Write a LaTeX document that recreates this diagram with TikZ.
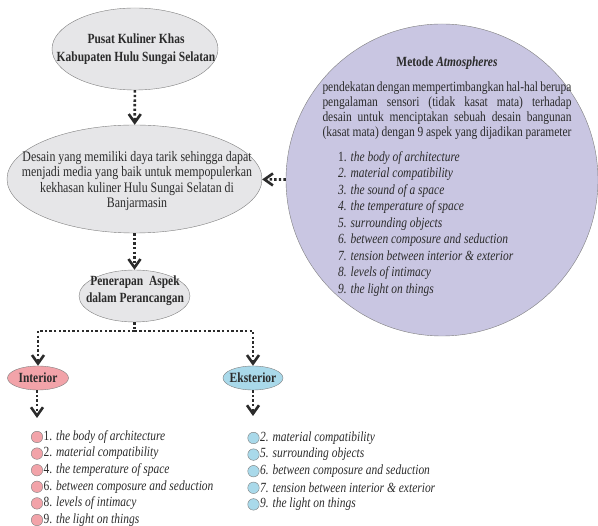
\documentclass[tikz,border=0pt]{standalone}
\usepackage{fontspec}
\setmainfont{Liberation Serif}[FakeStretch=0.82]
\usepackage{xcolor}
\usetikzlibrary{shapes,arrows,arrows.meta,positioning,fit,calc}

\definecolor{abu}{HTML}{E6E6E8}
\definecolor{ungu}{HTML}{C9C6E2}
\definecolor{merah}{HTML}{F2A3A9}
\definecolor{biru}{HTML}{A9D9EA}
\definecolor{garis}{HTML}{7F7F7F}
\definecolor{tinta}{HTML}{2B2B2B}

\begin{document}
\begin{tikzpicture}[x=1pt,y=-1pt,
  >={Straight Barb[length=8.5pt,width=12pt,line width=2.6pt]},
  every node/.style={font=\fontsize{14}{15.5}\selectfont,text=tinta},
  bubble/.style={ellipse,draw=garis,inner sep=0pt},
  teks/.style={align=center,inner sep=0pt},
  alur/.style={draw=tinta,line width=2.6pt,dash pattern=on 2.4pt off 2.2pt},
  titik/.style={circle,draw=garis,inner sep=0pt,minimum size=11.5pt}]
  \useasboundingbox (0,0) rectangle (598,526);

  \node[bubble,fill=abu,minimum width=166pt,minimum height=82pt] (pusat) at (135,49) {};
  \node[teks,font=\bfseries\fontsize{14}{18}\selectfont] (pusatTeks) at (136,49)
    {Pusat Kuliner Khas\\Kabupaten Hulu Sungai Selatan};
  \node[bubble,fill=abu,minimum width=255pt,minimum height=108pt] (desain) at (134.5,179) {};
  \node[teks,font=\fontsize{14.5}{15.4}\selectfont] (desainTeks) at (137,181)
    {Desain yang memiliki daya tarik sehingga dapat\\menjadi media yang baik untuk mempopulerkan\\kekhasan kuliner Hulu Sungai Selatan di\\Banjarmasin};
  \node[bubble,fill=abu,minimum width=111pt,minimum height=52pt] (terap) at (134.5,296) {};
  \node[teks,font=\bfseries\fontsize{14}{17}\selectfont] (terapTeks) at (135,291)
    {Penerapan \ Aspek\\dalam Perancangan};
  \node[bubble,fill=merah,minimum width=61pt,minimum height=24pt] (interior) at (38,378) {};
  \node[teks,font=\bfseries\fontsize{14}{15}\selectfont] at (interior) {Interior};
  \node[bubble,fill=biru,minimum width=60pt,minimum height=24pt] (eksterior) at (253,378) {};
  \node[teks,font=\bfseries\fontsize{14}{15}\selectfont] at (eksterior) {Eksterior};

  % metode atmospheres
  \node[circle,draw=garis,fill=ungu,minimum size=312pt] (metode) at (442,180) {};
  \node[anchor=base,inner sep=0pt] (judul) at (447,67) {\textbf{Metode \textit{Atmospheres}}};
  \node[anchor=north,align=center,inner sep=0pt,
        font=\fontsize{14}{15}\selectfont] (uraian) at (447,82)
    {\makebox[249pt][s]{pendekatan dengan mempertimbangkan hal-hal berupa}\\
     \makebox[249pt][s]{pengalaman sensori (tidak kasat mata) terhadap}\\
     \makebox[249pt][s]{desain untuk menciptakan sebuah desain bangunan}\\
     \makebox[249pt][s]{(kasat mata) dengan 9 aspek yang dijadikan parameter}};
  \node[anchor=north west,align=left,inner sep=0pt,
        font=\fontsize{14}{16.5}\selectfont] (aspek) at (338,151)
    {1. \textit{the body of architecture}\\
     \textit{2. material compatibility}\\
     \textit{3. the sound of a space}\\
     \textit{4. the temperature of space}\\
     \textit{5. surrounding objects}\\
     \textit{6. between composure and seduction}\\
     \textit{7. tension between interior \& exterior}\\
     \textit{8. levels of intimacy}\\
     \textit{9. the light on things}};

  % alur
  \coordinate (cabang) at (134.5,331);
  \coordinate (ujungInt) at (37,418);
  \coordinate (ujungEks) at (253,416);
  \draw[alur,->] (pusat) -- (desain);
  \draw[alur,->] (desain) -- (terap);
  \draw[alur,->] (metode) -- (desain);
  \draw[alur] (terap) -- (cabang);
  \draw[alur,->] (cabang) -| (interior);
  \draw[alur,->] (cabang) -| (eksterior);
  \draw[alur,->] (interior.south -| ujungInt) -- (ujungInt);
  \draw[alur,->] (eksterior) -- (ujungEks);

  % daftar aspek
  \foreach \n/\t [count=\i] in {1/the body of architecture,2/material compatibility,
      4/the temperature of space,6/between composure and seduction,
      8/levels of intimacy,9/the light on things} {
    \node[titik,fill=merah] (int\i) at (37,437+16.6*\i-16.6) {};
    \node[anchor=west,inner sep=0.5pt] (intTeks\i) at (int\i.east) {\n. \textit{\t}};
  }
  \foreach \n/\t [count=\i] in {2/material compatibility,5/surrounding objects,
      6/between composure and seduction,7/tension between interior \& exterior,
      9/the light on things} {
    \node[titik,fill=biru] (eks\i) at (253.5,438+16.6*\i-16.6) {};
    \node[anchor=west,inner sep=0.5pt] (eksTeks\i) at (eks\i.east) {\textit{\n. \t}};
  }
\end{tikzpicture}
\end{document}
